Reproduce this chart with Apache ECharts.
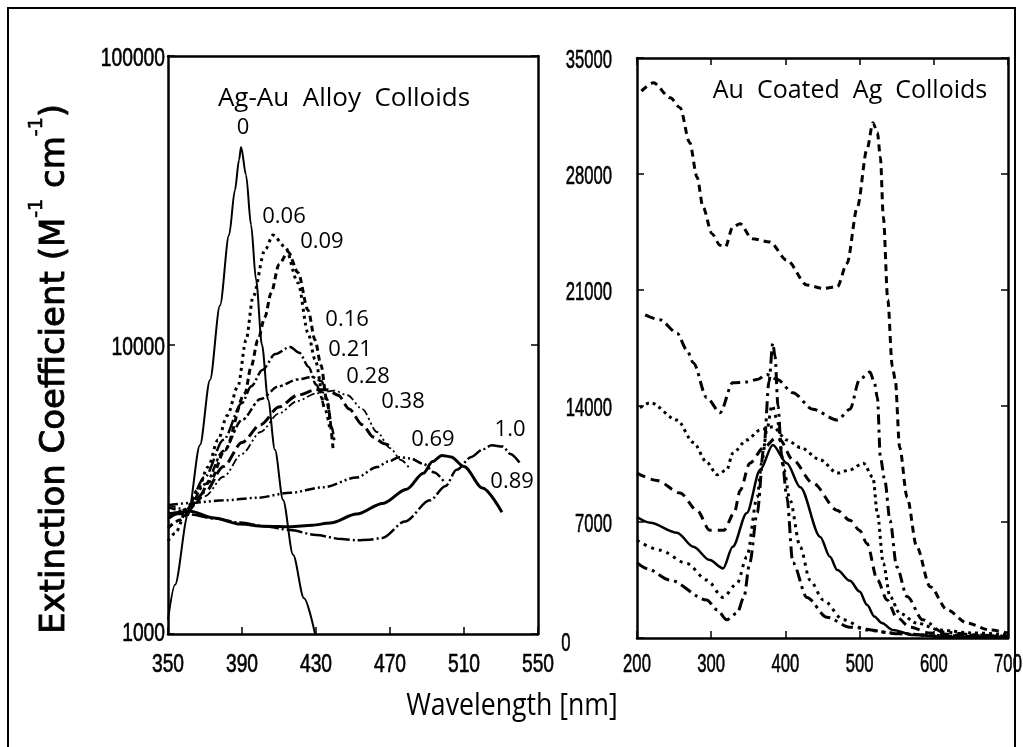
<!DOCTYPE html>
<html>
<head>
<meta charset="utf-8">
<script src="https://cdn.jsdelivr.net/npm/echarts@6/dist/echarts.min.js"></script>
<style>
  html, body { margin: 0; padding: 0; background: #ffffff; }
  #chart { width: 1023px; height: 747px; }
</style>
</head>
<body>
<div id="chart"></div>
<script>
// ---------- Ag-Au alloy colloids: [wavelength nm, extinction M^-1 cm^-1] ----------
const alloy_0 = [[350,1120],[353.8,1480],[360.8,2580],[367.3,4510],[372.7,7570],[378.1,13700],[383,24000],[386.2,34400],[388.4,43700],[389.5,48400],[392.2,38700],[394.9,26000],[397.6,16800],[400.8,10000],[404.1,6460],[407.8,4340],[412.2,2910],[417.6,1880],[423.5,1330],[429.5,1000]];
const alloy_006 = [[350,2100],[353.8,2230],[360.8,2750],[366,3150],[371.6,3780],[377,4690],[382,5700],[387.8,7190],[392.2,10400],[396,14700],[402.4,21300],[406.8,24000],[413.2,21900],[420.3,16400],[425.7,11000],[429.5,8900],[434.9,6000],[437.6,5080]];
const alloy_009 = [[350,2330],[356.5,2480],[364.6,2810],[372.7,3370],[380.8,4330],[391.6,6800],[394.9,8400],[398.6,10400],[402.4,12500],[405.7,15100],[410,19000],[414.9,21000],[420.3,17800],[425.7,13200],[429.5,10400],[432.7,8520],[436,6300],[439.2,4400]];
const alloy_016 = [[350,2500],[360,2700],[370,3500],[380,4700],[390,6300],[395,7200],[401,8200],[408,9300],[416,9850],[421,9400],[426,8400],[430,7300],[434,6200]];
const alloy_021 = [[350,2750],[360,2650],[370,3300],[380,4300],[390,5500],[400,6500],[410,7200],[420,7600],[428,7750],[433,7500],[436,6500],[438.5,5200],[440,4600]];
const alloy_028 = [[350,2600],[360,2650],[370,3100],[380,3800],[390,4600],[400,5300],[410,6100],[420,6700],[430,7000],[436,7000],[442,6700],[448,6000],[455,5300],[461,4800],[467,4550],[472,4400]];
const alloy_038 = [[350,2800],[360,2700],[370,3000],[380,3500],[390,4200],[400,5000],[410,5800],[420,6400],[430,6800],[440,6950],[447,6700],[455,6000],[463,5000],[470,4400],[476,4000],[481,3700]];
const alloy_069 = [[350,2790],[362,2840],[380,2900],[398,2960],[416,3080],[434,3220],[452,3480],[463,3780],[469,3950],[475,4090],[481,4050],[488,3880],[494,3620],[499,3380]];
const alloy_089 = [[350,2550],[362,2660],[375,2520],[389,2400],[402,2360],[416,2350],[428,2380],[437.6,2420],[452,2600],[466,2830],[479,3170],[488,3600],[493,3950],[498,4150],[503,4100],[510,3800],[520,3200],[530.5,2640]];
const alloy_100 = [[350,2620],[362,2590],[375,2510],[389,2430],[402,2360],[416,2290],[430,2200],[444,2130],[452,2110],[459,2120],[466,2150],[478,2450],[491.6,2900],[500,3250],[506,3700],[514,4100],[520,4350],[525,4500],[531,4450],[535,4200],[540,3920]];

// Au mole fraction printed beside each alloy curve: [wavelength, extinction, text]
const alloyTags = [[390.5,56400,'0'],[412.7,27700,'0.06'],[433.2,22700,'0.09'],[446.8,12200,'0.16'],[448.4,9620,'0.21'],[458.1,7750,'0.28'],[477,6360,'0.38'],[493.2,4690,'0.69'],[534.9,5080,'1.0'],[536,3360,'0.89']];

// ---------- Au coated Ag colloids: [wavelength nm, extinction] ----------
const coatA = [[206,33000],[222,33500],[245,32600],[258,32000],[271,29900],[281,27800],[289,26000],[301,24400],[312,23700],[319,23600],[329,24800],[339,25000],[355,24100],[379,23900],[402,22800],[429,21300],[451,21100],[470,21200],[483,22600],[497,26000],[510,29500],[518,31100],[524,30500],[528,29000],[532,25400],[538,20400],[544,16400],[548,15600],[554,11500],[564,8500],[577,5500],[595,3100],[618,1700],[645,900],[676,480],[700,300]];
const coatB = [[211,19500],[231,19200],[254,18400],[267,17400],[276,16600],[294,14500],[312,13600],[329,15400],[348,15450],[362,15600],[375,15900],[389,15600],[410,14800],[437,13800],[470,13150],[487,13800],[500,15600],[514,16050],[520,15400],[524,14500],[528,10900],[534,9500],[541,7100],[550,4300],[564,2500],[585,1100],[612,360],[658,180],[700,100]];
const coatC = [[204,13900],[218,14200],[254,13150],[276,11800],[294,10600],[308,9850],[321,10150],[329,11150],[348,11950],[366,12550],[383,12750],[402,11950],[420,11500],[447,10750],[470,9950],[487,10150],[505,10550],[518,9700],[524,7500],[532,4500],[541,2500],[554,1500],[577,900],[608,480],[653,300],[700,200]];
const coatD = [[200,9950],[227,9500],[258,8750],[281,7700],[298,6500],[317,6500],[331,7550],[339,8900],[352,10550],[371,11500],[388,12100],[392,12000],[410,10750],[437,9350],[470,7700],[487,7100],[500,6500],[510,5700],[524,3500],[537,2300],[550,1250],[568,650],[595,300],[631,180],[700,100]];
const coatE = [[200,7300],[218,6950],[254,6350],[276,5500],[298,4700],[316,4200],[329,5500],[348,7550],[366,10150],[383,11650],[402,10550],[420,9100],[447,6100],[460,4900],[470,4100],[487,3450],[500,2800],[510,2000],[520,1300],[530,900],[545,480],[572,180],[620,60],[700,30]];
const coatF = [[200,5900],[231,5300],[267,4500],[294,3500],[316,2450],[335,3300],[348,4900],[362,8500],[368,10550],[375,12550],[382,14050],[389,13150],[398,10150],[406,8350],[420,5500],[433,3500],[451,2300],[478,1100],[510,480],[545,300],[600,150],[700,80]];
const coatG = [[200,4550],[213,4200],[244,3500],[294,2300],[308,1700],[321,1100],[335,1500],[344,2450],[352,4550],[362,7550],[371,11500],[378,15500],[383,17800],[386,17000],[390,14000],[395,11000],[402,8500],[410,4550],[429,2450],[456,1250],[487,650],[554,250],[620,100],[700,60]];

// ---------- axis ranges and tick labels ----------
const alloyXTicks = [350, 390, 430, 470, 510, 550];
const alloyYTicks = [1000, 10000, 100000];
const coatXTicks = [200, 300, 400, 500, 600, 700];
const coatYTicks = [0, 7000, 14000, 21000, 28000, 35000];

const tickFont = '"Liberation Sans", Arial, sans-serif';
const textFont = '"Open Sans", "Noto Sans", sans-serif';
const INK = '#000000';

function line(name, data, xi, yi, width, dash) {
  return {
    name, type: 'line', data, xAxisIndex: xi, yAxisIndex: yi,
    showSymbol: false, symbol: 'none', smooth: 0.3, smoothMonotone: 'x',
    lineStyle: { color: INK, width: width, type: dash || 'solid' },
    silent: true, animation: false, z: 3
  };
}

function frameAxis(extra) {
  return Object.assign({
    axisLine: { show: true, onZero: false, lineStyle: { color: INK, width: 2.5 } },
    axisTick: { show: true, inside: true, length: 7, lineStyle: { color: INK, width: 1.5 } },
    axisLabel: { show: false },
    splitLine: { show: false },
    minorTick: { show: false }
  }, extra);
}

const option = {
  backgroundColor: '#ffffff',
  animation: false,
  grid: [
    { left: 168, top: 56, width: 370, height: 578 },
    { left: 637, top: 58, width: 371, height: 580 }
  ],
  xAxis: [
    frameAxis({ gridIndex: 0, type: 'value', position: 'bottom', min: alloyXTicks[0], max: alloyXTicks[alloyXTicks.length - 1], interval: alloyXTicks[1] - alloyXTicks[0] }),
    frameAxis({ gridIndex: 0, type: 'value', position: 'top', min: alloyXTicks[0], max: alloyXTicks[alloyXTicks.length - 1], interval: alloyXTicks[1] - alloyXTicks[0], axisTick: { show: false } }),
    frameAxis({ gridIndex: 1, type: 'value', position: 'bottom', min: coatXTicks[0], max: coatXTicks[coatXTicks.length - 1], interval: coatXTicks[1] - coatXTicks[0] }),
    frameAxis({ gridIndex: 1, type: 'value', position: 'top', min: coatXTicks[0], max: coatXTicks[coatXTicks.length - 1], interval: coatXTicks[1] - coatXTicks[0] })
  ],
  yAxis: [
    frameAxis({ gridIndex: 0, type: 'log', logBase: 10, position: 'left', min: alloyYTicks[0], max: alloyYTicks[alloyYTicks.length - 1] }),
    frameAxis({ gridIndex: 0, type: 'log', logBase: 10, position: 'right', min: alloyYTicks[0], max: alloyYTicks[alloyYTicks.length - 1] }),
    frameAxis({ gridIndex: 1, type: 'value', position: 'left', min: coatYTicks[0], max: coatYTicks[coatYTicks.length - 1], interval: coatYTicks[1] - coatYTicks[0] }),
    frameAxis({ gridIndex: 1, type: 'value', position: 'right', min: coatYTicks[0], max: coatYTicks[coatYTicks.length - 1], interval: coatYTicks[1] - coatYTicks[0] })
  ],
  series: [
    line('0', alloy_0, 0, 0, 2, 'solid'),
    line('0.06', alloy_006, 0, 0, 3, [3, 4]),
    line('0.09', alloy_009, 0, 0, 3, [6, 4]),
    line('0.16', alloy_016, 0, 0, 2.5, [14, 3, 2, 3]),
    line('0.21', alloy_021, 0, 0, 2.5, [8, 3, 3, 3]),
    line('0.28', alloy_028, 0, 0, 3, [12, 5]),
    line('0.38', alloy_038, 0, 0, 1.8, [8, 3, 2, 3, 2, 3]),
    line('0.69', alloy_069, 0, 0, 2.5, [10, 3, 2, 3, 2, 3]),
    line('0.89', alloy_089, 0, 0, 3, 'solid'),
    line('1.0', alloy_100, 0, 0, 2.5, [16, 3, 2, 3]),
    line('A', coatA, 2, 2, 3, [7, 5]),
    line('B', coatB, 2, 2, 3, [10, 5, 3, 5]),
    line('C', coatC, 2, 2, 3, [3, 4]),
    line('D', coatD, 2, 2, 3, [9, 6]),
    line('E', coatE, 2, 2, 2.5, 'solid'),
    line('F', coatF, 2, 2, 3, [3, 5]),
    line('G', coatG, 2, 2, 3, [12, 5, 3, 5])
  ]
};

const chart = echarts.init(document.getElementById('chart'), null, { renderer: 'canvas' });
chart.setOption(option);

// condensed tick numerals, placed at the positions the axes give for each tick value
function tickText(x, y, text, align, squeeze) {
  return { type: 'text', x: x, y: y, scaleX: squeeze, silent: true, z: 10,
    style: { text: text, fill: INK, stroke: INK, lineWidth: 0.6, font: '26px ' + tickFont, align: align, verticalAlign: 'middle' } };
}

const decor = [
  { type: 'rect', shape: { x: 8, y: 8, width: 1007, height: 760 },
    style: { fill: 'none', stroke: INK, lineWidth: 2 }, silent: true },
  { type: 'text', x: 344, y: 99, silent: true,
    style: { text: 'Ag-Au  Alloy  Colloids', fill: INK, font: '26px ' + textFont, align: 'center', verticalAlign: 'middle' } },
  { type: 'text', x: 850, y: 91, silent: true,
    style: { text: 'Au  Coated  Ag  Colloids', fill: INK, font: '25px ' + textFont, align: 'center', verticalAlign: 'middle' } },
  { type: 'text', x: 512, y: 706, scaleX: 0.86, silent: true,
    style: { text: 'Wavelength [nm]', fill: INK, font: '31px ' + textFont, align: 'center', verticalAlign: 'middle' } },
  { type: 'text', x: 50, y: 369, rotation: Math.PI / 2, silent: true,
    style: {
      text: '{m|Extinction Coefficient (M}{s|-1}{m| cm}{s|-1}{m|)}',
      align: 'center', verticalAlign: 'middle',
      rich: {
        m: { fill: INK, stroke: INK, lineWidth: 0.9, fontFamily: '"DejaVu Sans", sans-serif', fontSize: 34, lineHeight: 44, verticalAlign: 'bottom' },
        s: { fill: INK, stroke: INK, lineWidth: 0.6, fontFamily: '"DejaVu Sans", sans-serif', fontSize: 19, lineHeight: 44, verticalAlign: 'top' }
      }
    } }
];

// composition tags, anchored in data coordinates of the alloy panel
alloyTags.forEach(t => {
  const p = chart.convertToPixel({ gridIndex: 0 }, [t[0], t[1]]);
  decor.push({ type: 'text', x: p[0], y: p[1], silent: true, z: 10,
    style: { text: t[2], fill: INK, font: '22px ' + textFont, align: 'center', verticalAlign: 'middle' } });
});

alloyXTicks.forEach(v => {
  decor.push(tickText(chart.convertToPixel({ xAxisIndex: 0 }, v), 665, String(v), 'center', 0.74));
});
alloyYTicks.forEach(v => {
  const y = chart.convertToPixel({ yAxisIndex: 0 }, v);
  decor.push(tickText(165, v === alloyYTicks[0] ? y : y + 3, String(v), 'right', 0.74));
});
coatXTicks.forEach(v => {
  decor.push(tickText(chart.convertToPixel({ xAxisIndex: 2 }, v), 665, String(v), 'center', 0.64));
});
coatYTicks.forEach(v => {
  const y = chart.convertToPixel({ yAxisIndex: 2 }, v);
  if (v === 0) decor.push(tickText(566, y + 6, String(v), 'center', 0.64));
  else decor.push(tickText(612, y + 3, String(v), 'right', 0.64));
});

chart.setOption({ graphic: decor });
</script>
</body>
</html>
